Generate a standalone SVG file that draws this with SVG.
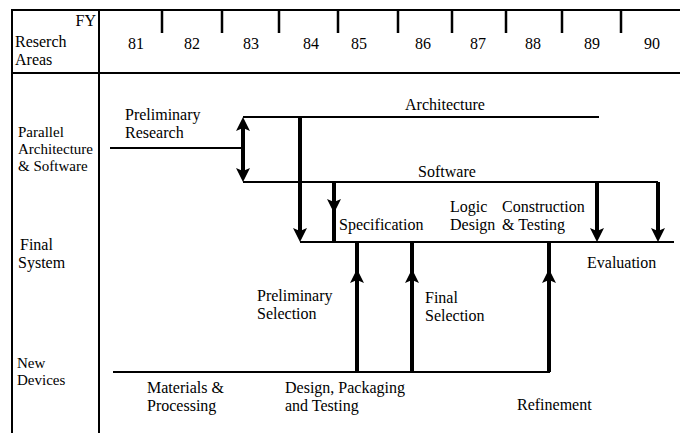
<svg xmlns="http://www.w3.org/2000/svg" xmlns:xlink="http://www.w3.org/1999/xlink" width="680" height="433" viewBox="0 0 680 433">
<style>
text{font-family:"Liberation Serif","Times New Roman",serif;fill:#000;font-size:16px}
.sm{font-size:15px}
.yr{font-size:16px;text-anchor:middle}
.mid{text-anchor:middle}
.frame{stroke:#000;stroke-width:2;fill:none}
.tick{stroke:#000;stroke-width:2.5}
.ln{stroke:#000;stroke-width:2;fill:none}
.ar{stroke:#000;stroke-width:4;fill:none}
</style>
<defs>
<path id="ah" d="M0,0 L-7,-14 L0,-11 L7,-14 Z" fill="#000"/>
</defs>
<rect width="680" height="433" fill="#fff"/>
<g id="frame">
<path class="frame" d="M12,433 V10 H680 M99,10 V433 M12,73 H680"/>
<path class="tick" d="M162,10 V33 M222,10 V33 M279,10 V33 M338,10 V33 M398,10 V33 M452,10 V33 M506,10 V33 M562,10 V33 M621,10 V33"/>
</g>
<g id="header">
<text x="96" y="26" text-anchor="end">FY</text>
<text x="15" y="47">Reserch</text>
<text x="15" y="65">Areas</text>
<text class="yr" x="136" y="49">81</text>
<text class="yr" x="192" y="49">82</text>
<text class="yr" x="251" y="49">83</text>
<text class="yr" x="311" y="49">84</text>
<text class="yr" x="359" y="49">85</text>
<text class="yr" x="423" y="49">86</text>
<text class="yr" x="478" y="49">87</text>
<text class="yr" x="533" y="49">88</text>
<text class="yr" x="592" y="49">89</text>
<text class="yr" x="652" y="49">90</text>
</g>
<g id="area-parallel">
<text class="sm" x="18" y="137">Parallel</text>
<text class="sm" x="18" y="154">Architecture</text>
<text class="sm" x="18" y="171">&amp; Software</text>
</g>
<g id="area-final">
<text x="20" y="250">Final</text>
<text x="18" y="268">System</text>
</g>
<g id="area-devices">
<text class="sm" x="17" y="368">New</text>
<text class="sm" x="17" y="385">Devices</text>
</g>
<g id="connectors">
<path class="ln" d="M110,148 H243 M243,117 H599 M243,182 H658 M300,242 H674 M113,372 H550"/>
<path class="ar" d="M243,122 V177 M300,117 V235 M334,182 V242 M597,182 V235 M658,182 V235 M357,372 V242 M412,372 V242 M549,372 V242"/>
<use xlink:href="#ah" transform="translate(243,117) rotate(180)"/>
<use xlink:href="#ah" transform="translate(243,182)"/>
<use xlink:href="#ah" transform="translate(300,242)"/>
<use xlink:href="#ah" transform="translate(334,213)"/>
<use xlink:href="#ah" transform="translate(597,242)"/>
<use xlink:href="#ah" transform="translate(658,242)"/>
<use xlink:href="#ah" transform="translate(357,269) rotate(180)"/>
<use xlink:href="#ah" transform="translate(412,269) rotate(180)"/>
<use xlink:href="#ah" transform="translate(549,269) rotate(180)"/>
</g>
<g id="prelim-research">
<text x="125" y="120">Preliminary</text>
<text x="125" y="138">Research</text>
</g>
<g id="architecture"><text class="mid" x="445" y="110">Architecture</text></g>
<g id="software"><text class="mid" x="447" y="177">Software</text></g>
<g id="specification"><text x="339" y="230">Specification</text></g>
<g id="logic-design">
<text x="450" y="212">Logic</text>
<text x="450" y="230">Design</text>
</g>
<g id="construction-testing">
<text x="502" y="212">Construction</text>
<text x="502" y="230">&amp; Testing</text>
</g>
<g id="evaluation"><text x="587" y="268">Evaluation</text></g>
<g id="prelim-selection">
<text x="257" y="301">Preliminary</text>
<text x="257" y="319">Selection</text>
</g>
<g id="final-selection">
<text x="425" y="303">Final</text>
<text x="425" y="321">Selection</text>
</g>
<g id="materials">
<text x="147" y="393">Materials &amp;</text>
<text x="147" y="411">Processing</text>
</g>
<g id="design-packaging">
<text x="285" y="393">Design, Packaging</text>
<text x="285" y="411">and Testing</text>
</g>
<g id="refinement"><text x="517" y="410">Refinement</text></g>
</svg>
